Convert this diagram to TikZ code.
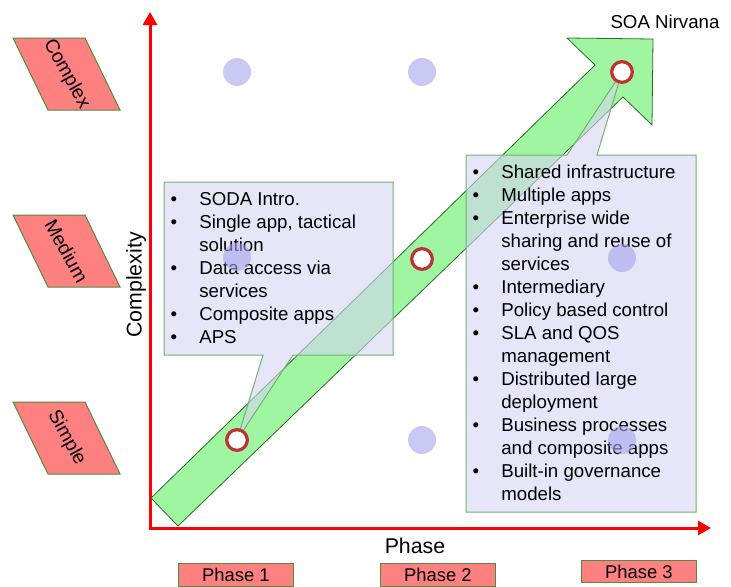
\documentclass[tikz,border=0pt]{standalone}
\usepackage{fontspec}
\setmainfont{Liberation Sans}
\usetikzlibrary{arrows.meta}

\definecolor{axisred}{RGB}{255,0,0}
\definecolor{levelfill}{RGB}{255,128,128}
\definecolor{levelline}{RGB}{80,140,60}
\definecolor{arrowfill}{RGB}{160,245,160}
\definecolor{arrowline}{RGB}{40,110,40}
\definecolor{notefill}{RGB}{213,213,243}
\definecolor{noteline}{RGB}{110,180,110}
\definecolor{dotblue}{RGB}{165,165,235}
\definecolor{ringred}{RGB}{190,50,50}

\newcommand{\listfont}{\fontsize{14}{17.25}\selectfont}
\newcommand{\itm}{\textbullet &}

\begin{document}
\begin{tikzpicture}[x=0.75pt, y=-0.75pt,
  axis/.style={draw=axisred, line width=2.25pt,
    {Triangle[length=9.75pt,width=10.5pt]}-{Triangle[length=9.75pt,width=10.5pt]}},
  levelbox/.style={draw=levelline, fill=levelfill, line width=0.75pt},
  leveltext/.style={rotate=-61, font=\fontsize{14.5}{17}\selectfont},
  phasebox/.style={draw=levelline, fill=levelfill, line width=0.75pt, anchor=north west,
    minimum width=86pt, minimum height=17.25pt, inner sep=0pt, font=\fontsize{13.8}{16}\selectfont},
  bigarrow/.style={draw=arrowline, fill=arrowfill, line width=0.6pt},
  note/.style={draw=noteline, fill=notefill, fill opacity=0.6, line width=0.75pt},
  notetext/.style={anchor=north west, inner xsep=4.8pt, inner ysep=5pt, font=\listfont},
  griddot/.style={circle, fill=dotblue, opacity=0.6, minimum size=21pt, inner sep=0pt},
  milestone/.style={circle, draw=ringred, fill=white, line width=2.4pt, minimum size=15.5pt, inner sep=0pt},
  axislabel/.style={font=\fontsize{16}{19}\selectfont}]
  \useasboundingbox (0,0) rectangle (731,586);

  % milestone positions
  \coordinate (m1) at (237,440);
  \coordinate (m2) at (422,259);
  \coordinate (m3) at (622,72);

  % axes
  \coordinate (origin) at (150,528);
  \draw[axis] (150,12) -- (origin) -- (711,528);
  \node[axislabel, rotate=90] (complexity) at (136,285) {Complexity};
  \node[axislabel] (phase) at (415,546) {Phase};

  % complexity levels
  \foreach \lvl/\ty in {Complex/38, Medium/215, Simple/402} {
    \draw[levelbox] (13,\ty) -- ++(72,0) -- ++(35,72) -- ++(-72,0) -- cycle;
    \node[leveltext] (\lvl) at (66.5,\ty+36) {\lvl};
  }

  % phases
  \node[phasebox] (phase1) at (178,563) {Phase 1};
  \node[phasebox] (phase2) at (380,563) {Phase 2};
  \node[phasebox, minimum height=16.5pt] (phase3) at (581,560) {Phase 3};

  % road to nirvana
  \filldraw[bigarrow] (151,498) -- (595,65) -- (567,38) -- (653,39) -- (652,125)
    -- (623,97) -- (178,526) -- cycle;

  % callouts
  \path[note] (164,182) -- (393,182) -- (393,355) -- (293,355) -- (m1) -- (263,355)
    -- (164,355) -- cycle;
  \node[notetext] (introlist) at (164,182) {\begin{tabular}{@{}p{21.5pt}@{}l@{}}
    \itm SODA Intro.\\
    \itm Single app, tactical\\
         & solution\\
    \itm Data access via\\
         & services\\
    \itm Composite apps\\
    \itm APS
  \end{tabular}};

  \path[note] (466,155) -- (567,155) -- (m3) -- (597,155) -- (696,155) -- (696,512)
    -- (466,512) -- cycle;
  \node[notetext] (nirvanalist) at (466,155) {\begin{tabular}{@{}p{21.5pt}@{}l@{}}
    \itm Shared infrastructure\\
    \itm Multiple apps\\
    \itm Enterprise wide\\
         & sharing and reuse of\\
         & services\\
    \itm Intermediary\\
    \itm Policy based control\\
    \itm SLA and QOS\\
         & management\\
    \itm Distributed large\\
         & deployment\\
    \itm Business processes\\
         & and composite apps\\
    \itm Built-in governance\\
         & models
  \end{tabular}};

  % grid dots
  \foreach \x/\y in {237/72, 422/72, 237/257, 622/258, 422/440, 622/440}
    \node[griddot] (dot-\x-\y) at (\x,\y) {};

  % milestones
  \node[milestone] (phaseone) at (m1) {};
  \node[milestone] (phasetwo) at (m2) {};
  \node[milestone] (nirvana) at (m3) {};
  \node[font=\listfont] (nirvanalabel) at (665,22) {SOA Nirvana};
\end{tikzpicture}
\end{document}
